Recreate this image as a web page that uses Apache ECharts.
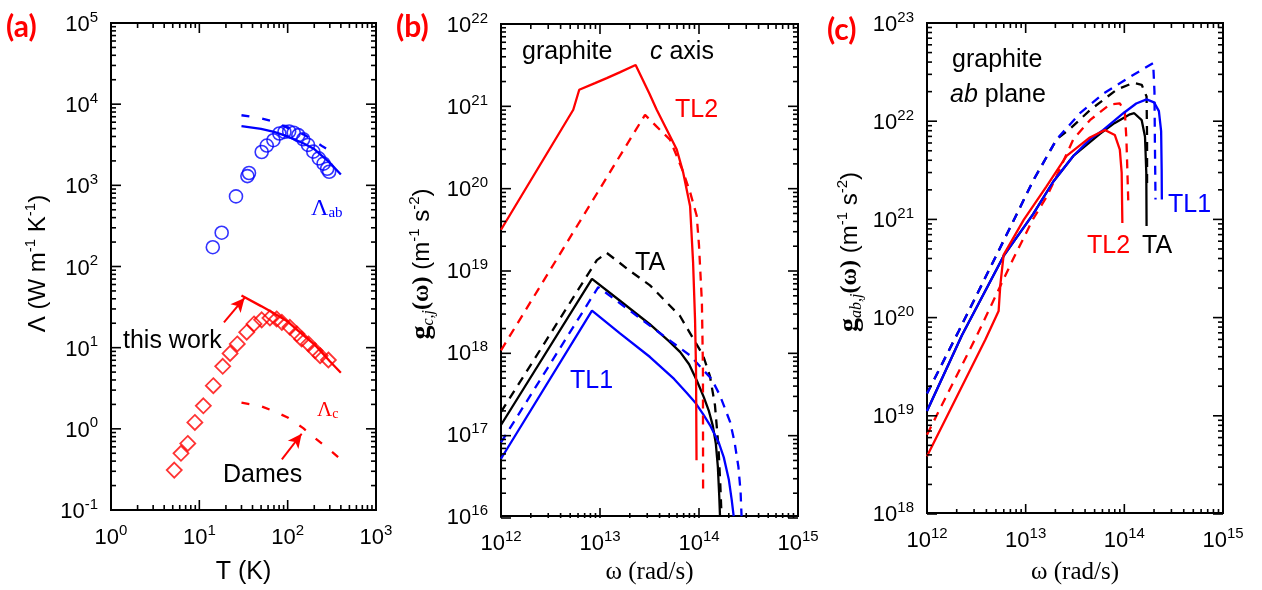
<!DOCTYPE html>
<html>
<head>
<meta charset="utf-8">
<script src="https://cdn.jsdelivr.net/npm/echarts@6/dist/echarts.min.js"></script>
<style>
html,body{margin:0;padding:0;background:#fff}
#chart{width:1262px;height:590px}
</style>
</head>
<body>
<div id="chart"></div>
<script>
// ---------- (a) thermal conductivity of graphite vs temperature ----------
const abT = [14.2, 17.9, 26, 35, 36.5, 50.8, 58, 69, 80.5, 92, 104, 117, 132, 150, 170, 195, 225, 255, 280, 295];
const abL = [173, 261, 731, 1300, 1420, 2577, 3090, 3600, 4350, 4550, 4600, 4450, 4150, 3700, 3150, 2600, 2150, 1850, 1600, 1470];
const cT = [5.2, 6.2, 7.4, 8.9, 11.1, 14.4, 18.4, 22.3, 26.9, 34.4, 41.6, 50.8, 63, 75, 86, 106, 127, 144, 172, 204, 233, 289];
const cL = [0.31, 0.5, 0.66, 1.2, 1.92, 3.4, 5.9, 8.5, 11.1, 15.5, 19.6, 22, 23.2, 22.6, 20.5, 17.8, 14.8, 12.8, 11.1, 9.2, 7.95, 7.05];
const modelT = [30, 50, 70, 100, 150, 200, 300, 400];
const abModel = [5350, 4950, 4550, 4000, 3300, 2800, 1900, 1360];
const cModel = [44, 32.5, 26.5, 21, 14.3, 11, 6.8, 4.9];
const cDames = [2.1, 1.9, 1.65, 1.38, 1.02, 0.78, 0.55, 0.42];
const abDashT = [30, 50, 70, 100, 150, 200, 250, 330];
const abModelDash = [7300, 6700, 6100, 5100, 4250, 3550, 3000, 2500];

// ---------- (b) spectral function, c axis ----------
const cTL2W  = [1e12, 5.37e12, 6.17e12, 8.9e12, 1.17e13, 1.58e13, 2.29e13, 3.16e13, 3.74e13, 5.0e13, 5.96e13, 6.92e13, 8.13e13, 8.71e13, 9.12e13, 9.33e13, 9.44e13];
const cTL2G  = [3.1e19, 9.0e20, 1.58e21, 1.9e21, 2.19e21, 2.57e21, 3.16e21, 1.41e21, 9.0e20, 4.5e20, 2.95e20, 1.55e20, 6.0e19, 1.26e19, 2.5e18, 6.3e17, 4.8e16];
const cTL2dW = [1e12, 2.85e13, 3.74e13, 5.09e13, 5.96e13, 6.95e13, 8.13e13, 9.48e13, 1.0e14, 1.07e14, 1.096e14, 1.1e14];
const cTL2dG = [1.05e18, 7.8e20, 5.6e20, 3.9e20, 2.45e20, 1.55e20, 8.9e19, 4.6e19, 2.0e19, 4.0e18, 6.3e17, 2.1e16];
const cTAW   = [1e12, 8.3e12, 1.58e13, 3.16e13, 5.0e13, 6.46e13, 7.94e13, 9.5e13, 1.12e14, 1.26e14, 1.38e14, 1.48e14, 1.55e14, 1.6e14, 1.63e14];
const cTAG   = [1.29e17, 7.8e18, 4.25e18, 2.2e18, 1.35e18, 1.0e18, 7.1e17, 4.5e17, 2.8e17, 1.9e17, 1.26e17, 7.6e16, 4.0e16, 1.8e16, 1.0e16];
const cTAdW  = [1e12, 9.3e12, 1.17e13, 2.0e13, 3.2e13, 6.43e13, 1.1e14, 1.29e14, 1.45e14, 1.57e14, 1.64e14, 1.69e14];
const cTAdG  = [1.86e17, 1.32e19, 1.62e19, 9.8e18, 6.5e18, 2.75e18, 9.1e17, 5.1e17, 2.24e17, 7.2e16, 2.5e16, 1.0e16];
const cTL1W  = [1e12, 8.3e12, 1.58e13, 3.2e13, 5.6e13, 7.5e13, 9.1e13, 1.1e14, 1.29e14, 1.58e14, 1.78e14, 2.0e14, 2.14e14, 2.24e14];
const cTL1G  = [5.0e16, 3.2e18, 1.7e18, 8.7e17, 4.7e17, 3.2e17, 2.45e17, 1.75e17, 1.29e17, 7.9e16, 5.2e16, 2.8e16, 1.58e16, 1.0e16];
const cTL1dW = [1e12, 9.6e12, 2.0e13, 3.74e13, 8.1e13, 1.34e14, 1.63e14, 2.06e14, 2.29e14, 2.5e14, 2.63e14, 2.69e14];
const cTL1dG = [7.9e16, 6.2e18, 3.2e18, 1.82e18, 9.1e17, 4.7e17, 2.95e17, 1.41e17, 7.9e16, 4.0e16, 2.0e16, 1.0e16];

// ---------- (c) spectral function, ab plane ----------
const abTL2W  = [1e12, 3.91e12, 5.32e12, 5.53e12, 5.98e12, 9.55e12, 1.62e13, 2.6e13, 4.48e13, 6.35e13, 8.0e13, 9.0e13, 9.4e13, 9.55e13];
const abTL2G  = [3.8e18, 5.9e19, 1.15e20, 2.1e20, 4.3e20, 9.8e20, 2.14e21, 4.4e21, 6.8e21, 8.1e21, 7.2e21, 5.1e21, 2.95e21, 9.1e20];
const abTL2dW = [1e12, 3.21e12, 7.55e12, 1.19e13, 1.64e13, 2.06e13, 3.04e13, 4.48e13, 7.14e13, 9.0e13, 1.01e14, 1.05e14, 1.1e14];
const abTL2dG = [6.3e18, 6.5e19, 4.0e20, 1.0e21, 1.7e21, 2.75e21, 6.5e21, 1.02e22, 1.48e22, 1.51e22, 1.26e22, 6.5e21, 1.35e21];
const abTAW   = [1e12, 2.26e12, 5.98e12, 1.19e13, 1.9e13, 3.04e13, 5.66e13, 7.94e13, 1.14e14, 1.26e14, 1.5e14, 1.62e14, 1.67e14, 1.68e14];
const abTAG   = [1.1e19, 6.5e19, 4.2e20, 1.12e21, 2.4e21, 4.4e21, 7.4e21, 9.5e21, 1.17e22, 1.2e22, 1.02e22, 6.9e21, 2.95e21, 8.5e20];
const abTAdW  = [1e12, 2.1e12, 6.93e12, 1.2e13, 2.06e13, 2.81e13, 4.48e13, 8.36e13, 1.23e14, 1.5e14, 1.68e14, 1.7e14, 1.7e14];
const abTAdG  = [1.66e19, 7.2e19, 8.1e20, 2.5e21, 6.5e21, 8.3e21, 1.29e22, 2.09e22, 2.45e22, 2.34e22, 1.78e22, 6.5e21, 2.14e21];
const abTL1W  = [1e12, 2.26e12, 5.98e12, 1.19e13, 1.9e13, 3.04e13, 4.48e13, 6.12e13, 9.77e13, 1.32e14, 1.68e14, 2.0e14, 2.24e14, 2.36e14, 2.39e14, 2.4e14];
const abTL1G  = [1.1e19, 6.5e19, 4.2e20, 1.12e21, 2.4e21, 4.4e21, 6.5e21, 8.1e21, 1.2e22, 1.51e22, 1.66e22, 1.55e22, 1.26e22, 7.9e21, 3.2e21, 1.58e21];
const abTL1dW = [1e12, 2.1e12, 6.93e12, 1.2e13, 2.06e13, 3.55e13, 6.12e13, 1.14e14, 1.96e14, 2.02e14, 2.04e14, 2.07e14];
const abTL1dG = [1.66e19, 7.2e19, 8.1e20, 2.5e21, 6.5e21, 1.2e22, 1.9e22, 2.82e22, 3.9e22, 2.0e22, 6.3e21, 1.58e21];

// axis ranges as decade exponents [x range, y range]
const rangeA = [[0, 3], [-1, 5]];
const rangeB = [[12, 15], [16, 22]];
const rangeC = [[12, 15], [18, 23]];

// panel boxes in pixels
const boxA = { left: 111, top: 23, width: 265, height: 487 };
const boxB = { left: 501, top: 24, width: 297, height: 494 };
const boxC = { left: 927, top: 23, width: 296, height: 491 };

const SANS = 'Liberation Sans, Arial, sans-serif';
const SERIF = 'Liberation Serif, Times New Roman, serif';
const RED = '#ff0000', BLUE = '#0000ff', BLACK = '#000000';

const zip = (xs, ys) => xs.map((x, i) => [x, ys[i]]);

const tickRich = {
  b: { fontSize: 22, fontFamily: SANS, color: '#000', lineHeight: 26, verticalAlign: 'bottom' },
  e: { fontSize: 15, fontFamily: SANS, color: '#000', lineHeight: 15, verticalAlign: 'top' }
};
const powLabel = v => '{b|10}{e|' + Math.round(Math.log10(v)) + '}';

function logAxis(idx, range, extra) {
  return Object.assign({
    type: 'log', logBase: 10, gridIndex: idx,
    min: Math.pow(10, range[0]), max: Math.pow(10, range[1]), interval: 1,
    axisLine: { show: false }, axisTick: { show: false }, splitLine: { show: false },
    axisLabel: { formatter: powLabel, rich: tickRich, margin: 13, showMinLabel: true, showMaxLabel: true }
  }, extra);
}

function line(idx, xs, ys, color, dash, w) {
  return {
    type: 'line', xAxisIndex: idx, yAxisIndex: idx, data: zip(xs, ys),
    showSymbol: false, symbol: 'none', silent: true,
    lineStyle: { color, width: w || 2.3, type: dash || 'solid', cap: 'butt' }
  };
}

const gridBox = { show: true, borderColor: '#000', borderWidth: 2, backgroundColor: 'transparent' };

const subRich = {
  n: { fontSize: 24, fontFamily: SANS, color: '#000', lineHeight: 30, verticalAlign: 'middle' },
  s: { fontSize: 15, fontFamily: SANS, color: '#000', lineHeight: 14, verticalAlign: 'top' },
  g: { fontSize: 28, fontFamily: SERIF, fontWeight: 'bold', color: '#000', lineHeight: 30, verticalAlign: 'middle' },
  i: { fontSize: 16, fontFamily: SERIF, fontStyle: 'italic', color: '#000', lineHeight: 12, verticalAlign: 'bottom' },
  w: { fontSize: 24, fontFamily: SERIF, fontWeight: 'bold', color: '#000', lineHeight: 30, verticalAlign: 'middle' }
};

const arrowStyle = { color: RED, width: 2, type: 'solid' };

function txt(x, y, text, fill, extra) {
  return { type: 'text', x, y, silent: true, z: 50,
    style: Object.assign({ text, fill, fontSize: 25, fontFamily: SANS, verticalAlign: 'middle' }, extra || {}) };
}

const labels = [
  txt(6, 27, '(a)', RED, { fontSize: 30, fontWeight: 'bold', fontFamily: 'Lato, ' + SANS }),
  txt(396, 27, '(b)', RED, { fontSize: 30, fontWeight: 'bold', fontFamily: 'Lato, ' + SANS }),
  txt(827, 30, '(c)', RED, { fontSize: 30, fontWeight: 'bold', fontFamily: 'Lato, ' + SANS }),

  txt(123, 341, 'this work', '#000'),
  txt(223, 475, 'Dames', '#000'),
  txt(311, 209, '{L|Λ}{s|ab}', BLUE, { rich: {
    L: { fontSize: 24, fontFamily: SERIF, color: BLUE, lineHeight: 24, verticalAlign: 'middle' },
    s: { fontSize: 15, fontFamily: SERIF, color: BLUE, lineHeight: 12, verticalAlign: 'bottom' } } }),
  txt(317, 410, '{L|Λ}{s|c}', RED, { rich: {
    L: { fontSize: 21, fontFamily: SERIF, color: RED, lineHeight: 22, verticalAlign: 'middle' },
    s: { fontSize: 14, fontFamily: SERIF, color: RED, lineHeight: 11, verticalAlign: 'bottom' } } }),

  txt(522, 52, 'graphite', '#000'),
  txt(650, 52, '{i|c}{n| axis}', '#000', { rich: {
    i: { fontSize: 25, fontFamily: SANS, fontStyle: 'italic', color: '#000' },
    n: { fontSize: 25, fontFamily: SANS, color: '#000' } } }),
  txt(675, 110, 'TL2', RED),
  txt(635, 263, 'TA', '#000'),
  txt(570, 381, 'TL1', BLUE),

  txt(952, 60, 'graphite', '#000'),
  txt(950, 95, '{i|ab}{n| plane}', '#000', { rich: {
    i: { fontSize: 25, fontFamily: SANS, fontStyle: 'italic', color: '#000' },
    n: { fontSize: 25, fontFamily: SANS, color: '#000' } } }),
  txt(1168, 205, 'TL1', BLUE),
  txt(1087, 246, 'TL2', RED),
  txt(1142, 246, 'TA', '#000')
];

// inward major (decade) and minor (2..9) ticks on all four sides of a log-log box,
// drawn as thin filled bars
function boxTicks(box, range) {
  const out = [];
  const [xlo, xhi] = range[0], [ylo, yhi] = range[1];
  const xL = box.left, xR = box.left + box.width, yT = box.top, yB = box.top + box.height;
  const xPix = v => xL + (Math.log10(v) - xlo) / (xhi - xlo) * box.width;
  const yPix = v => yB - (Math.log10(v) - ylo) / (yhi - ylo) * box.height;
  const W = 1.6;
  const bar = (x, y, w, h) => out.push({ type: 'rect', silent: true, z: 40,
    shape: { x, y, width: w, height: h }, style: { fill: '#000' } });
  for (let k = xlo; k < xhi; k++) {
    for (let m = 1; m <= 9; m++) {
      const len = m === 1 ? 10 : 5;
      const px = xPix(m * Math.pow(10, k));
      bar(px - W / 2, yB - len, W, len);
      bar(px - W / 2, yT, W, len);
    }
  }
  for (let k = ylo; k < yhi; k++) {
    for (let m = 1; m <= 9; m++) {
      const len = m === 1 ? 10 : 5;
      const py = yPix(m * Math.pow(10, k));
      bar(xL, py - W / 2, len, W);
      bar(xR - len, py - W / 2, len, W);
    }
  }
  return out;
}

const ticks = [].concat(boxTicks(boxA, rangeA), boxTicks(boxB, rangeB), boxTicks(boxC, rangeC));

const option = {
  animation: false,
  backgroundColor: '#fff',
  grid: [
    Object.assign({}, boxA, gridBox),
    Object.assign({}, boxB, gridBox),
    Object.assign({}, boxC, gridBox)
  ],
  xAxis: [
    logAxis(0, rangeA[0], { name: 'T (K)', nameLocation: 'middle', nameGap: 50,
      nameTextStyle: { fontSize: 25, fontFamily: SANS, color: '#000' } }),
    logAxis(1, rangeB[0], { name: 'ω (rad/s)', nameLocation: 'middle', nameGap: 43,
      nameTextStyle: { fontSize: 25, fontFamily: SERIF, color: '#000' } }),
    logAxis(2, rangeC[0], { name: 'ω (rad/s)', nameLocation: 'middle', nameGap: 47,
      nameTextStyle: { fontSize: 25, fontFamily: SERIF, color: '#000' } })
  ],
  yAxis: [
    logAxis(0, rangeA[1], { name: '{n|Λ (W m}{s|-1}{n| K}{s|-1}{n|)}', nameLocation: 'middle', nameGap: 58,
      nameTextStyle: { rich: subRich, padding: [0, 0, 0, 6] } }),
    logAxis(1, rangeB[1], { name: '{g|g}{i|c,j}{w|(ω)}{n| (m}{s|-1}{n| s}{s|-2}{n|)}', nameLocation: 'middle', nameGap: 64,
      nameTextStyle: { rich: subRich, padding: [0, 0, 0, 12] } }),
    logAxis(2, rangeC[1], { name: '{g|g}{i|ab,j}{w|(ω)}{n| (m}{s|-1}{n| s}{s|-2}{n|)}', nameLocation: 'middle', nameGap: 62,
      nameTextStyle: { rich: subRich, padding: [0, 0, 0, 32] } })
  ],
  series: [
    // (a)
    line(0, modelT, abModel, BLUE),
    line(0, abDashT, abModelDash, BLUE, [8, 13]),
    Object.assign(line(0, modelT, cModel, RED), {
      markLine: {
        silent: true, symbol: ['none', 'arrow'], symbolSize: [10, 14],
        label: { show: false }, lineStyle: arrowStyle,
        data: [
          [{ coord: [19, 20.5] }, { coord: [32.5, 41] }],
          [{ coord: [86, 0.42] }, { coord: [144, 0.87] }]
        ]
      }
    }),
    line(0, modelT, cDames, RED, [8, 13]),
    { type: 'scatter', xAxisIndex: 0, yAxisIndex: 0, data: zip(abT, abL), symbol: 'circle', symbolSize: 13, silent: true,
      itemStyle: { color: 'rgba(0,0,0,0)', borderColor: BLUE, borderWidth: 1.6 } },
    { type: 'scatter', xAxisIndex: 0, yAxisIndex: 0, data: zip(cT, cL), symbol: 'diamond', symbolSize: 15, silent: true,
      itemStyle: { color: 'rgba(0,0,0,0)', borderColor: RED, borderWidth: 1.8 } },

    // (b)
    line(1, cTAdW, cTAdG, BLACK, [9, 7]),
    line(1, cTAW, cTAG, BLACK),
    line(1, cTL1dW, cTL1dG, BLUE, [9, 7]),
    line(1, cTL1W, cTL1G, BLUE),
    line(1, cTL2dW, cTL2dG, RED, [9, 7]),
    line(1, cTL2W, cTL2G, RED),

    // (c)
    line(2, abTAdW, abTAdG, BLACK, [9, 7]),
    line(2, abTAW, abTAG, BLACK),
    line(2, abTL1dW, abTL1dG, BLUE, [9, 7]),
    line(2, abTL2dW, abTL2dG, RED, [9, 7]),
    line(2, abTL1W, abTL1G, BLUE),
    line(2, abTL2W, abTL2G, RED)
  ],
  graphic: labels.concat(ticks)
};

const chart = echarts.init(document.getElementById('chart'), null, { renderer: 'canvas' });
chart.setOption(option);
</script>
</body>
</html>
